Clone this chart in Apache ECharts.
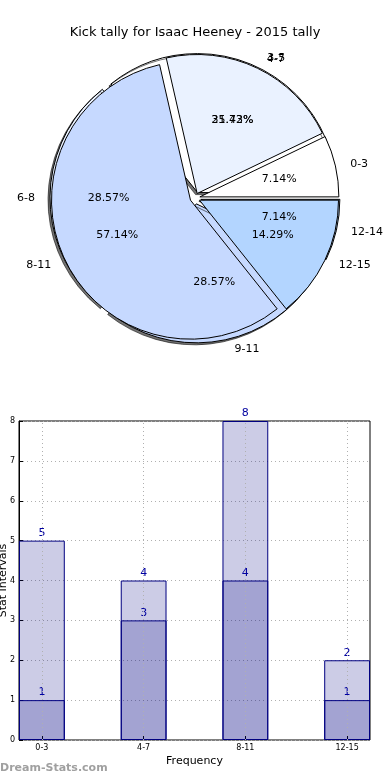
<!DOCTYPE html>
<html>
<head>
<meta charset="utf-8">
<script src="https://cdn.jsdelivr.net/npm/echarts@6/dist/echarts.min.js"></script>
<style>
html,body{margin:0;padding:0;background:#fff;}
#main{width:390px;height:780px;}
</style>
</head>
<body>
<div id="main"></div>
<script>
// ---- data ----
var titleText = 'Kick tally for Isaac Heeney - 2015 tally';
// back pie (hidden mostly)
var pieALabels = ['3-5', '6-8', '9-11', '12-14'];
var pieAValues = [5, 4, 4, 1];
// front pie
var pieBLabels = ['0-3', '4-7', '8-11', '12-15'];
var pieBValues = [1, 3, 8, 2];
// bar chart
var barCategories = ['0-3', '4-7', '8-11', '12-15'];
var barTotals = [5, 4, 8, 2];
var barFirst = [1, 3, 4, 1];
var yTicks = [0, 1, 2, 3, 4, 5, 6, 7, 8];

var pieAColors = ['#ffffff', '#eaf2ff', '#c6d9ff', '#b3d5ff'];
var pieBColors = ['#ffffff', '#eaf2ff', '#c6d9ff', '#b3d5ff'];

var chart = echarts.init(document.getElementById('main'), null, {renderer: 'canvas'});
var FONT = 'DejaVu Sans';
var center = [195, 198];
var R = 139;

function pieData(labels, values, colors) {
  return labels.map(function (l, i) {
    return {name: l, value: values[i], selected: true, itemStyle: {color: colors[i]}};
  });
}
function plainData(labels, values) {
  return labels.map(function (l, i) { return {name: l, value: values[i]}; });
}

function shapePie(labels, values, colors, z, offset, shadow) {
  return {
    type: 'pie', z: z, silent: true, center: center, radius: [0, R],
    startAngle: 0, clockwise: false, avoidLabelOverlap: false,
    selectedMode: 'multiple', selectedOffset: offset,
    animation: false,
    labelLayout: {hideOverlap: false},
    itemStyle: {borderColor: '#000', borderWidth: 1,
      shadowColor: shadow ? 'rgba(0,0,0,0.55)' : 'transparent', shadowBlur: 0,
      shadowOffsetX: shadow ? -2 : 0, shadowOffsetY: shadow ? 2 : 0},
    label: {show: true, position: 'outside', formatter: '{b}', color: '#000',
      fontFamily: FONT, fontSize: 11},
    labelLine: {show: false, length: 10, length2: 0},
    emphasis: {disabled: true},
    data: pieData(labels, values, colors)
  };
}
function pctPie(labels, values, z) {
  return {
    type: 'pie', z: z, silent: true, center: center, radius: [R * 0.2, R],
    startAngle: 0, clockwise: false, avoidLabelOverlap: false,
    animation: false, percentPrecision: 2,
    labelLayout: {hideOverlap: false},
    itemStyle: {color: 'rgba(0,0,0,0)', borderWidth: 0},
    label: {show: true, position: 'inside', formatter: '{d}%', color: '#000',
      fontFamily: FONT, fontSize: 11},
    labelLine: {show: false},
    emphasis: {disabled: true},
    data: plainData(labels, values)
  };
}

function barSeries(name, values, withGrid) {
  var s = {
    type: 'bar', name: name, xAxisIndex: 1, yAxisIndex: 1,
    barWidth: '45%', barGap: '-100%',
    itemStyle: {color: 'rgba(0,0,128,0.2)', borderColor: '#000080', borderWidth: 1},
    label: {show: true, position: 'top', distance: 2, color: '#0000a0', fontFamily: FONT, fontSize: 11},
    labelLayout: {hideOverlap: false},
    emphasis: {disabled: true},
    data: values
  };
  if (withGrid) {
    s.markLine = {silent: true, symbol: 'none', label: {show: false},
      lineStyle: {color: '#b0b0b0', type: [1, 3], width: 1},
      data: barCategories.map(function (c) { return {xAxis: c}; })};
  }
  return s;
}

var option = {
  backgroundColor: '#fff',
  animation: false,
  title: {text: titleText, left: 'center', top: 21,
    textStyle: {fontFamily: FONT, fontSize: 13, fontWeight: 'normal', color: '#000'}},
  grid: [
    {left: 19, right: 20, top: 421, bottom: 40, show: true, outerBoundsMode: 'none', containLabel: false,
      borderColor: '#000', borderWidth: 1, backgroundColor: 'transparent'},
    {left: -8.98, right: -7.98, top: 421, bottom: 40, outerBoundsMode: 'none', containLabel: false}
  ],
  xAxis: [
    {gridIndex: 0, type: 'value', min: 0, max: 1, show: false},
    {
      gridIndex: 1, type: 'category', data: barCategories, boundaryGap: true,
      name: 'Frequency', nameLocation: 'middle', nameGap: 16, nameMoveOverlap: false,
      nameTextStyle: {fontFamily: FONT, fontSize: 11, color: '#000'},
      axisLine: {show: false},
      axisTick: {show: true, inside: true, length: 4, alignWithLabel: true, lineStyle: {color: '#000'}},
      axisLabel: {fontFamily: FONT, fontSize: 8, color: '#000', margin: 4},
      splitLine: {show: false}
    }
  ],
  yAxis: [
    {
      gridIndex: 0, type: 'value', min: yTicks[0], max: yTicks[yTicks.length - 1], interval: 1,
      name: 'Stat Intervals', nameLocation: 'middle', nameGap: 10, nameRotate: 90,
      nameMoveOverlap: false,
      nameTextStyle: {fontFamily: FONT, fontSize: 11, color: '#000'},
      axisLine: {show: true, onZero: false, lineStyle: {color: '#000'}},
      axisTick: {show: true, inside: true, length: 4, lineStyle: {color: '#000'}},
      axisLabel: {fontFamily: FONT, fontSize: 8, color: '#000', margin: 4},
      splitLine: {show: true, lineStyle: {color: '#b0b0b0', type: [1, 3], width: 1}}
    },
    {gridIndex: 1, type: 'value', min: yTicks[0], max: yTicks[yTicks.length - 1], show: false}
  ],
  graphic: [{type: 'text', left: 0, top: 763, silent: true,
    style: {text: 'Dream-Stats.com', fontFamily: FONT, fontSize: 11, fontWeight: 'bold', fill: '#a0a0a0'}}],
  series: [
    shapePie(pieALabels, pieAValues, pieAColors, 1, 6, true),
    shapePie(pieBLabels, pieBValues, pieBColors, 3, 5, false),
    pctPie(pieALabels, pieAValues, 5),
    pctPie(pieBLabels, pieBValues, 6),
    barSeries('total', barTotals, true),
    barSeries('first', barFirst, false)
  ]
};
chart.setOption(option);
</script>
</body>
</html>
